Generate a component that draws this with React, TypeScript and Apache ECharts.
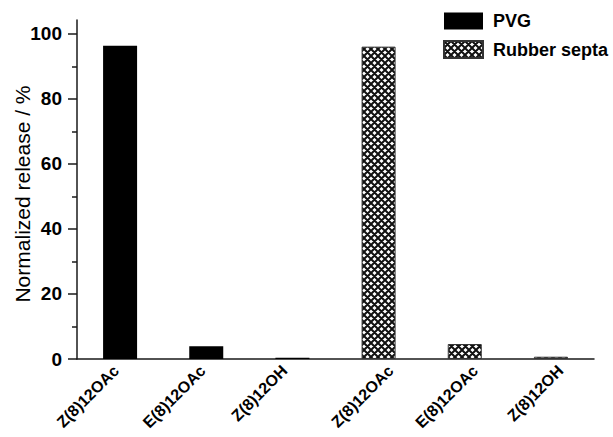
import React, { useEffect, useRef } from 'react';
import * as echarts from 'echarts';

const CATEGORIES = ['Z(8)12OAc', 'E(8)12OAc', 'Z(8)12OH', 'Z(8)12OAc', 'E(8)12OAc', 'Z(8)12OH'];
const PVG: (number | string)[] = [96.4, 3.9, 0.4, '-', '-', '-'];
const RUBBER: (number | string)[] = ['-', '-', '-', 96.1, 4.6, 0.7];
const Y_MAJOR = [0, 20, 40, 60, 80, 100];
const Y_MINOR = [10, 30, 50, 70, 90];
// horizontal shift (px) of each rotated label relative to its bar centre, as seen in the reference
const LABEL_SHIFT = [-4, -3.5, -8, 12, 10.5, 9.5];

const FONT = '"Liberation Sans", Arial, Helvetica, sans-serif';
const INK = '#1a1a1a';
const ROT = 45;
const BASE_MARGIN = 9;
const LIFT = 12; // margin reduction compensated by per-label padding

function makeHatch(): string {
  const s = 7;
  const c = document.createElement('canvas');
  c.width = s;
  c.height = s;
  const ctx = c.getContext('2d')!;
  ctx.fillStyle = '#ffffff';
  ctx.fillRect(0, 0, s, s);
  ctx.strokeStyle = '#111111';
  ctx.lineWidth = 2;
  ctx.beginPath();
  for (const k of [-s, 0, s]) {
    ctx.moveTo(-2 + k, -2);
    ctx.lineTo(s + 2 + k, s + 2);
    ctx.moveTo(s + 2 + k, -2);
    ctx.lineTo(-2 + k, s + 2);
  }
  ctx.stroke();
  return c.toDataURL();
}

function buildRich() {
  const rich: any = {};
  const c = Math.SQRT1_2;
  LABEL_SHIFT.forEach((s, i) => {
    // text-down shift e moves (+c,+c); backward shift b moves (-c,+c); margin lift moves (0,-LIFT)
    const e = (LIFT + s) / (2 * c);
    const b = (LIFT - s) / (2 * c);
    rich['l' + i] = {
      fontSize: 16,
      fontWeight: 'bold',
      fontFamily: FONT,
      color: '#000',
      padding: [2 * e, b, 0, 0],
    };
  });
  return rich;
}

export default function App() {
  const ref = useRef<HTMLDivElement>(null);
  useEffect(() => {
    if (!ref.current) return;
    const chart = echarts.init(ref.current, undefined, { renderer: 'svg' });
    const hatch = { image: makeHatch(), repeat: 'repeat', imageWidth: 7, imageHeight: 7 };
    const option: any = {
      animation: false,
      backgroundColor: '#ffffff',
      textStyle: { fontFamily: FONT },
      grid: { left: 77, right: 19, top: 20, bottom: 78, containLabel: false, outerBoundsMode: 'none' },
      legend: {
        left: 443,
        top: 12,
        orient: 'vertical',
        padding: 0,
        itemGap: 10,
        itemWidth: 39,
        itemHeight: 17,
        icon: 'rect',
        textStyle: { fontSize: 18, fontWeight: 'bold', color: '#000', fontFamily: FONT, padding: [0, 0, 0, 5] },
        data: ['PVG', 'Rubber septa'],
      },
      xAxis: {
        type: 'category',
        data: CATEGORIES,
        axisLine: { show: true, lineStyle: { color: INK, width: 1.5 } },
        axisTick: { show: false },
        splitLine: { show: false },
        axisLabel: {
          interval: 0,
          rotate: ROT,
          margin: BASE_MARGIN - LIFT,
          fontSize: 16,
          fontWeight: 'bold',
          color: '#000',
          fontFamily: FONT,
          formatter: (v: string, i: number) => `{l${i}|${v}}`,
          rich: buildRich(),
        },
      },
      yAxis: [
        {
          type: 'value',
          min: 0,
          max: 104.3,
          axisLine: { show: true, lineStyle: { color: INK, width: 1.5 } },
          axisTick: { show: true, length: 9, customValues: Y_MAJOR, lineStyle: { color: INK, width: 1.5 } },
          axisLabel: {
            customValues: Y_MAJOR,
            margin: 15,
            fontSize: 19,
            fontWeight: 'bold',
            color: '#000',
            fontFamily: FONT,
          },
          splitLine: { show: false },
          name: 'Normalized release / %',
          nameLocation: 'middle',
          nameGap: 44,
          nameMoveOverlap: false,
          nameTextStyle: { fontSize: 21, color: '#000', fontFamily: FONT, padding: [0, 9, 0, 0] },
        },
        {
          type: 'value',
          min: 0,
          max: 104.3,
          position: 'left',
          axisLine: { show: false },
          axisTick: { show: true, length: 5, customValues: Y_MINOR, lineStyle: { color: INK, width: 1.5 } },
          axisLabel: { show: false },
          splitLine: { show: false },
        },
      ],
      series: [
        {
          name: 'PVG',
          type: 'bar',
          data: PVG,
          barWidth: 34,
          barGap: '-100%',
          itemStyle: { color: '#000' },
        },
        {
          name: 'Rubber septa',
          type: 'bar',
          data: RUBBER,
          barWidth: 34,
          barGap: '-100%',
          itemStyle: { color: hatch, borderColor: '#333', borderWidth: 1 },
        },
      ],
    };
    chart.setOption(option);
    return () => chart.dispose();
  }, []);
  return (
    <div
      ref={ref}
      style={{ position: 'fixed', left: 0, top: 0, width: 613, height: 437, background: '#fff' }}
    />
  );
}
